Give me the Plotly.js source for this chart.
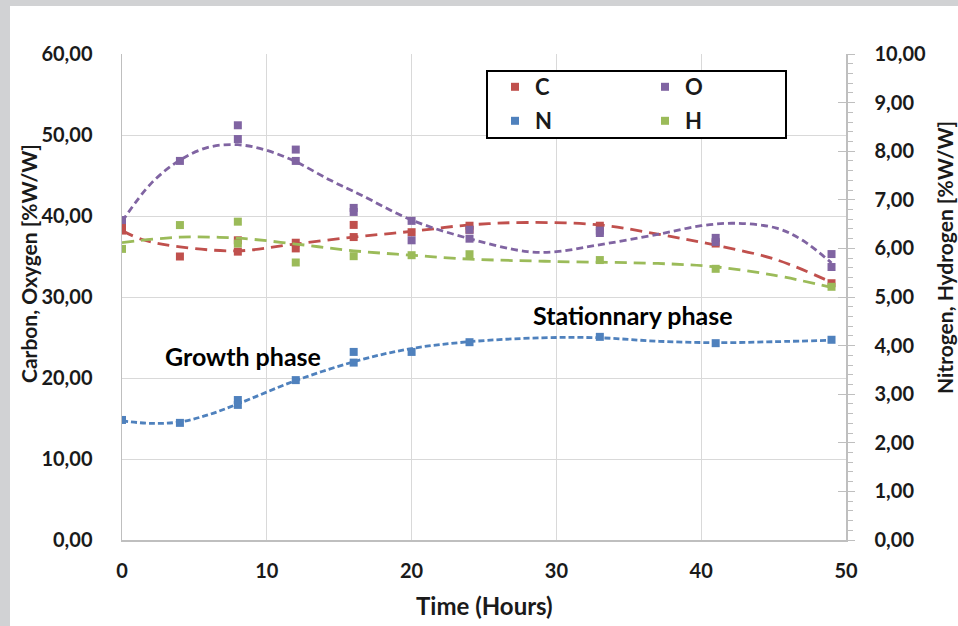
<!DOCTYPE html>
<html>
<head>
<meta charset="utf-8">
<script src="https://cdn.plot.ly/plotly-3.0.1.min.js"></script>
<style>html,body{margin:0;padding:0;background:#fff;}#chart{width:958px;height:626px;}</style>
</head>
<body>
<div id="chart"></div>
<script>
// ---- measured data (hours, %W/W) ----
var cHours = [0, 0, 4, 8, 8, 12, 12, 16, 16, 20, 24, 24, 33, 41, 49];
var cVals  = [38.7, 38.2, 35.0, 37.0, 35.6, 36.7, 36.0, 38.9, 37.4, 38.0, 38.8, 38.3, 38.8, 36.6, 31.7];

var oHours = [0, 4, 8, 8, 12, 12, 16, 16, 20, 20, 24, 24, 33, 33, 41, 41, 49, 49];
var oVals  = [39.5, 46.8, 51.2, 49.5, 48.2, 46.8, 41.0, 40.5, 39.4, 37.0, 38.3, 37.2, 38.2, 37.9, 37.3, 36.8, 35.3, 33.7];

var nHours = [0, 4, 8, 8, 12, 16, 16, 20, 24, 33, 41, 49];
var nVals  = [2.47, 2.41, 2.88, 2.78, 3.29, 3.87, 3.65, 3.87, 4.07, 4.18, 4.05, 4.12];

var hHours = [0, 4, 8, 8, 12, 16, 20, 24, 33, 41, 49];
var hVals  = [5.99, 6.48, 6.55, 6.10, 5.71, 5.84, 5.86, 5.88, 5.76, 5.58, 5.21];

// ---- trend lines ----
var cTrendX = [0, 1.4, 4, 8, 11.8, 16, 20, 24, 28, 33, 37.2, 41, 45.2, 49];
var cTrendY = [38.2, 37.1, 36.2, 35.7, 36.5, 37.4, 38.1, 38.9, 39.2, 38.9, 37.7, 36.4, 34.6, 31.8];

var oTrendX = [0, 2, 4, 6, 8, 10, 12, 14.4, 16.5, 20, 24, 28, 30, 32.5, 37.2, 40, 42.4, 45.2, 47, 49];
var oTrendY = [39.3, 44.0, 46.9, 48.5, 48.8, 48.1, 46.7, 44.4, 42.6, 39.5, 37.2, 35.6, 35.6, 36.3, 37.8, 38.8, 39.1, 38.5, 37.0, 34.2];

var nTrendX = [0, 2, 4, 6, 8, 12, 16.4, 20, 24, 29, 33, 37, 41, 45, 49];
var nTrendY = [2.45, 2.40, 2.43, 2.58, 2.80, 3.28, 3.70, 3.94, 4.08, 4.16, 4.16, 4.09, 4.06, 4.08, 4.11];

var hTrendX = [0, 4, 8, 12, 16, 20, 24, 30, 37, 41, 45, 49];
var hTrendY = [6.12, 6.23, 6.21, 6.09, 5.95, 5.86, 5.78, 5.73, 5.69, 5.62, 5.45, 5.20];

var seriesNames = ['C', 'O', 'N', 'H'];
var xTitle = 'Time (Hours)';
var yTitle = 'Carbon, Oxygen [%W/W]';
var y2Title = 'Nitrogen, Hydrogen [%W/W]';
var phaseLabels = ['Growth phase', 'Stationnary phase'];

var RED = '#C0504D', PURPLE = '#8064A2', BLUE = '#4F81BD', GREEN = '#9BBB59';
var FONT = 'Lato, "Open Sans", "DejaVu Sans", sans-serif';
var TXT = '#1a1a1a';

function trend(x, y, color, dash, axis) {
  return {x: x, y: y, yaxis: axis, type: 'scatter', mode: 'lines', showlegend: false, hoverinfo: 'skip',
          line: {color: color, width: 2.8, dash: dash, shape: 'spline', smoothing: 1}};
}
function pts(x, y, color, name, axis, leg) {
  return {x: x, y: y, yaxis: axis, type: 'scatter', mode: 'markers', name: name, legend: leg,
          marker: {symbol: 'square', size: 8, color: color}};
}

var data = [
  trend(cTrendX, cTrendY, RED, '12px,7px', 'y'),
  trend(hTrendX, hTrendY, GREEN, '12px,7px', 'y2'),
  trend(oTrendX, oTrendY, PURPLE, '7px,4px', 'y'),
  trend(nTrendX, nTrendY, BLUE, '6px,3px', 'y2'),
  pts(cHours, cVals, RED, seriesNames[0], 'y', 'legend'),
  pts(oHours, oVals, PURPLE, seriesNames[1], 'y', 'legend2'),
  pts(nHours, nVals, BLUE, seriesNames[2], 'y2', 'legend3'),
  pts(hHours, hVals, GREEN, seriesNames[3], 'y2', 'legend4'),
  {x: [0, 50], y: [0, 10], yaxis: 'y3', type: 'scatter', mode: 'none', showlegend: false, hoverinfo: 'skip'}
];

function leg(px, py) {
  return {x: (px - 122) / 724, y: (540 - py) / 486, xanchor: 'left', yanchor: 'middle',
          bgcolor: 'rgba(0,0,0,0)', borderwidth: 0,
          font: {family: FONT, size: 22, color: TXT, weight: 'bold'}};
}

var tickFont = {family: FONT, size: 20, color: TXT, weight: 'bold'};

var layout = {
  width: 958, height: 626,
  margin: {l: 122, r: 112, t: 54, b: 86},
  paper_bgcolor: '#ffffff', plot_bgcolor: '#ffffff',
  separators: ',.',
  showlegend: true,
  xaxis: {range: [0, 50], dtick: 10, tick0: 0, showgrid: true, gridcolor: '#d9d9d9', gridwidth: 1,
          showline: true, linecolor: '#bfbfbf', linewidth: 1.5, ticks: '', zeroline: false,
          tickfont: tickFont, ticklabelstandoff: 12, fixedrange: true},
  yaxis: {range: [0, 60], dtick: 10, tick0: 0, tickformat: '.2f', showgrid: true, gridcolor: '#d9d9d9', gridwidth: 1,
          showline: true, linecolor: '#bfbfbf', linewidth: 1.5, ticks: '', zeroline: false,
          tickfont: tickFont, ticklabelstandoff: 24},
  yaxis2: {overlaying: 'y', side: 'right', range: [0, 10], dtick: 1, tick0: 0, tickformat: '.2f',
           showgrid: false, zeroline: false, showline: true, linecolor: '#bfbfbf', linewidth: 1.5,
           ticks: 'outside', ticklen: 7, tickcolor: '#bfbfbf', tickwidth: 1,
           minor: {dtick: 0.2, ticks: 'outside', ticklen: 5, tickcolor: '#bfbfbf', showgrid: false},
           tickfont: tickFont, ticklabelstandoff: 16},
  yaxis3: {overlaying: 'y', side: 'right', range: [0, 10], dtick: 1, tick0: 0, showgrid: false, zeroline: false,
           showline: false, ticks: 'inside', ticklen: 8, tickcolor: '#bfbfbf', showticklabels: false},
  legend: leg(495, 87),
  legend2: leg(645, 87),
  legend3: leg(495, 121),
  legend4: leg(645, 121),
  shapes: [
    {type: 'rect', xref: 'paper', yref: 'paper', x0: (487 - 122) / 724, x1: (786 - 122) / 724,
     y0: (540 - 138) / 486, y1: (540 - 71) / 486, line: {color: '#000000', width: 2}, fillcolor: '#ffffff', layer: 'above'},
    {type: 'rect', xref: 'paper', yref: 'paper', x0: -122 / 724, x1: (10 - 122) / 724,
     y0: (540 - 626) / 486, y1: 540 / 486, line: {width: 0}, fillcolor: '#d1d2d4', layer: 'above'},
    {type: 'rect', xref: 'paper', yref: 'paper', x0: -122 / 724, x1: (958 - 122) / 724,
     y0: (540 - 6) / 486, y1: 540 / 486, line: {width: 0}, fillcolor: '#d1d2d4', layer: 'above'}
  ],
  annotations: [
    {text: yTitle, xref: 'paper', yref: 'paper', x: (28 - 122) / 724, y: (540 - 264) / 486, textangle: -90,
     showarrow: false, xanchor: 'center', yanchor: 'middle', font: {family: FONT, size: 21, color: TXT, weight: 'bold'}},
    {text: y2Title, xref: 'paper', yref: 'paper', x: (944 - 122) / 724, y: (540 - 258) / 486, textangle: -90,
     showarrow: false, xanchor: 'center', yanchor: 'middle', font: {family: FONT, size: 21, color: TXT, weight: 'bold'}},
    {text: xTitle, xref: 'paper', yref: 'paper', x: (484 - 122) / 724, y: (540 - 605) / 486,
     showarrow: false, xanchor: 'center', yanchor: 'middle', font: {family: FONT, size: 24, color: TXT, weight: 'bold'}},
    {text: phaseLabels[0], xref: 'paper', yref: 'paper', x: (243 - 122) / 724, y: (540 - 356) / 486,
     showarrow: false, xanchor: 'center', yanchor: 'middle', font: {family: FONT, size: 25, color: '#000', weight: 'bold'}},
    {text: phaseLabels[1], xref: 'paper', yref: 'paper', x: (633 - 122) / 724, y: (540 - 315) / 486,
     showarrow: false, xanchor: 'center', yanchor: 'middle', font: {family: FONT, size: 25, color: '#000', weight: 'bold'}}
  ]
};

Plotly.newPlot('chart', data, layout, {displayModeBar: false, staticPlot: true});
</script>
</body>
</html>
